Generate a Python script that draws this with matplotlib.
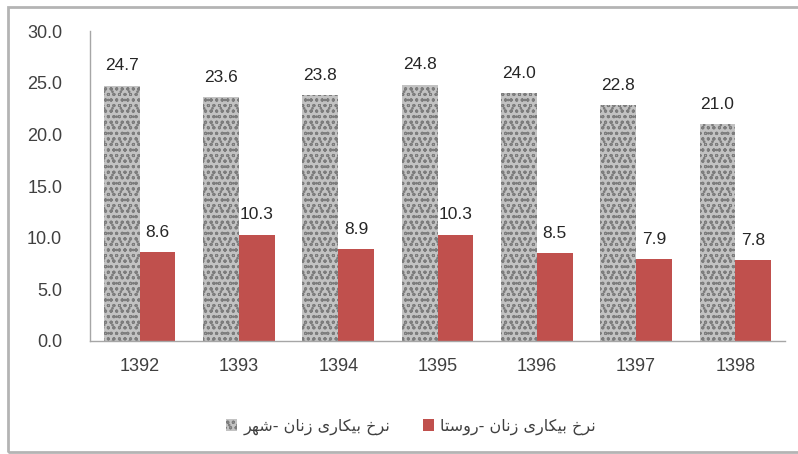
import matplotlib
matplotlib.use("Agg")
import matplotlib.pyplot as plt
from matplotlib.patches import Patch, Rectangle
import numpy as np

# data
years = ['1392', '1393', '1394', '1395', '1396', '1397', '1398']
urban = [24.7, 23.6, 23.8, 24.8, 24.0, 22.8, 21.0]
rural = [8.6, 10.3, 8.9, 10.3, 8.5, 7.9, 7.8]
label_urban = 'نرخ بیکاری زنان -شهر'
label_rural = 'نرخ بیکاری زنان -روستا'

# matplotlib has no arabic shaping / bidi, so do a tiny one by hand
FORMS = {
    'ن': '\uFEE5\uFEE6\uFEE7\uFEE8', 'ر': '\uFEAD\uFEAE', 'خ': '\uFEA5\uFEA6\uFEA7\uFEA8',
    'ب': '\uFE8F\uFE90\uFE91\uFE92', 'ی': '\uFBFC\uFBFD\uFBFE\uFBFF', 'ک': '\uFB8E\uFB8F\uFB90\uFB91',
    'ا': '\uFE8D\uFE8E', 'ز': '\uFEAF\uFEB0', 'ش': '\uFEB5\uFEB6\uFEB7\uFEB8',
    'ه': '\uFEE9\uFEEA\uFEEB\uFEEC', 'و': '\uFEED\uFEEE', 'س': '\uFEB1\uFEB2\uFEB3\uFEB4',
    'ت': '\uFE95\uFE96\uFE97\uFE98',
}

def shape(text):
    out = []
    for i, ch in enumerate(text):
        if ch not in FORMS:
            out.append(ch)
            continue
        f = FORMS[ch]
        prev = text[i - 1] if i > 0 else ''
        nxt = text[i + 1] if i + 1 < len(text) else ''
        jp = prev in FORMS and len(FORMS[prev]) == 4
        jn = len(f) == 4 and nxt in FORMS
        if jp and jn:
            out.append(f[3])
        elif jp:
            out.append(f[1])
        elif jn:
            out.append(f[2])
        else:
            out.append(f[0])
    return ''.join(out)[::-1]

plt.rcParams['font.family'] = ['Liberation Sans', 'DejaVu Sans']
plt.rcParams['hatch.linewidth'] = 0.7

GRANITE = dict(facecolor='#c2c2c2', edgecolor='#7c7c7c', hatch='ooo..', linewidth=0)

fig = plt.figure(figsize=(7.98, 4.54), dpi=100)
ax = fig.add_axes([0.1128, 0.2489, 0.8709, 0.6828])

x = np.arange(len(years))
w = 0.36
b1 = ax.bar(x - w / 2, urban, w, **GRANITE)
b2 = ax.bar(x + w / 2, rural, w, color='#c0504d', linewidth=0)

for bars, vals in ((b1, urban), (b2, rural)):
    for rect, v in zip(bars, vals):
        ax.annotate(f'{v:.1f}', (rect.get_x() + rect.get_width() / 2, v),
                    xytext=(0, 9), textcoords='offset points', ha='center', va='bottom',
                    fontsize=12.5, color='#262626')

ax.set_xlim(-0.5, len(years) - 0.5)
ax.set_ylim(0, 30)
ax.set_yticks(np.arange(0, 30.1, 5))
ax.set_yticklabels([f'{t:.1f}' for t in np.arange(0, 30.1, 5)])
ax.set_xticks(x)
ax.set_xticklabels(years)
ax.tick_params(axis='both', length=0, labelsize=13, labelcolor='#404040')
ax.tick_params(axis='y', pad=20)
ax.tick_params(axis='x', pad=12)
for s in ('top', 'right'):
    ax.spines[s].set_visible(False)
for s in ('left', 'bottom'):
    ax.spines[s].set_color('#a6a6a6')
    ax.spines[s].set_linewidth(1)

handles = [Patch(**GRANITE), Patch(facecolor='#c0504d', linewidth=0)]
leg = fig.legend(handles, [shape(label_urban), shape(label_rural)], ncol=2,
                 loc='center', bbox_to_anchor=(0.515, 0.06), frameon=False,
                 handlelength=0.7, handleheight=0.7, handletextpad=0.4,
                 columnspacing=2.0, prop={'family': 'DejaVu Sans', 'size': 11.5})
for t in leg.get_texts():
    t.set_color('#404040')

# outer chart frame
fig.patches.append(Rectangle((8 / 798, 2 / 454), 1.0, 445 / 454, transform=fig.transFigure,
                             fill=False, edgecolor='#b4b4b4', linewidth=2))

fig.savefig('out.png', dpi=100)
